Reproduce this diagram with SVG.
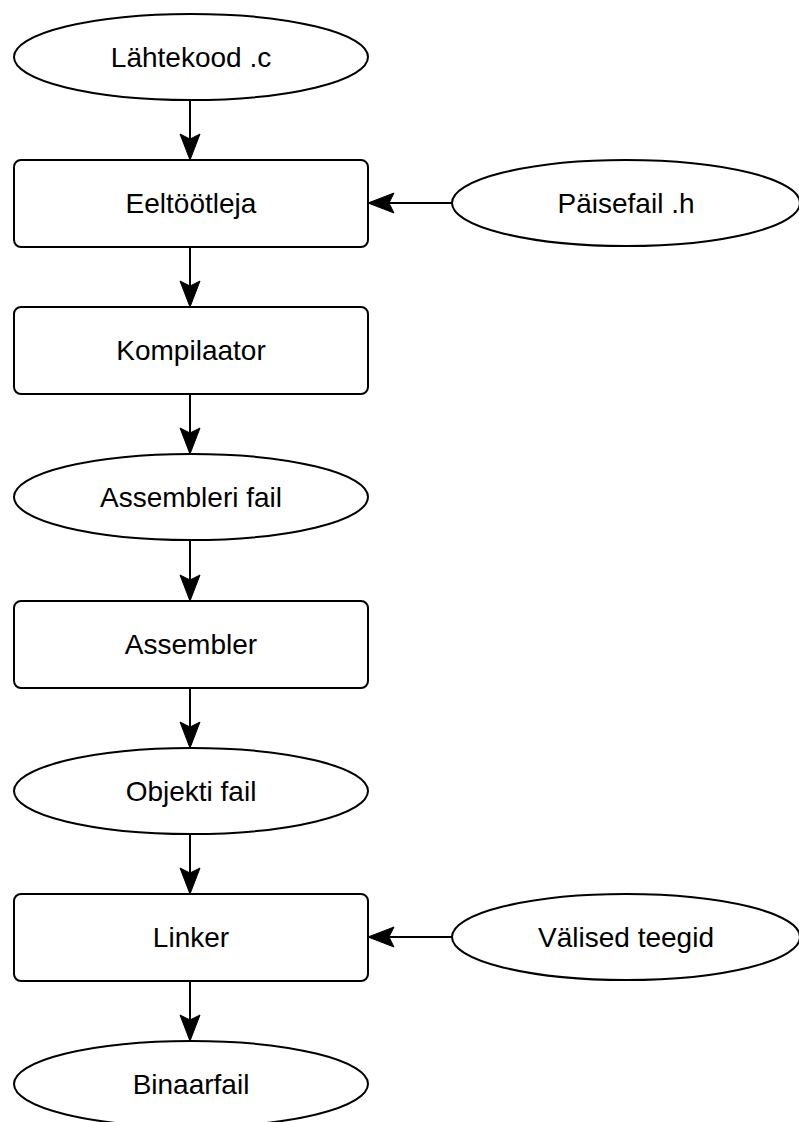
<svg xmlns="http://www.w3.org/2000/svg" width="799" height="1122" viewBox="0 0 799 1122">
<defs>
<style>
.n{fill:#fff;stroke:#000;stroke-width:2}
.t{font-family:"Liberation Sans",Arial,sans-serif;font-size:28px;fill:#000;text-anchor:middle}
.c{fill:none;stroke:#000;stroke-width:2}
</style>
<marker id="a" viewBox="0 0 28 24" refX="23" refY="12" markerWidth="28" markerHeight="24" markerUnits="userSpaceOnUse" orient="auto">
<path d="M1,2 L27,12 L1,22 L6,12 Z" fill="#000" stroke="#000" stroke-width="1" stroke-linejoin="miter"/>
</marker>
</defs>
<g id="connectors">
<line class="c" x1="190" y1="100" x2="190" y2="156" marker-end="url(#a)"/>
<line class="c" x1="190" y1="247" x2="190" y2="303" marker-end="url(#a)"/>
<line class="c" x1="190" y1="394" x2="190" y2="450" marker-end="url(#a)"/>
<line class="c" x1="190" y1="541" x2="190" y2="597" marker-end="url(#a)"/>
<line class="c" x1="190" y1="688" x2="190" y2="744" marker-end="url(#a)"/>
<line class="c" x1="190" y1="835" x2="190" y2="890" marker-end="url(#a)"/>
<line class="c" x1="190" y1="981" x2="190" y2="1037" marker-end="url(#a)"/>
<line class="c" x1="452" y1="203" x2="372" y2="203" marker-end="url(#a)"/>
<line class="c" x1="452" y1="937" x2="372" y2="937" marker-end="url(#a)"/>
</g>
<g id="lahtekood"><ellipse class="n" cx="191" cy="57" rx="177" ry="43"/><text class="t" x="191" y="67">Lähtekood .c</text></g>
<g id="eeltootleja"><rect class="n" x="14" y="160" width="354" height="87" rx="7"/><text class="t" x="191" y="213">Eeltöötleja</text></g>
<g id="paisefail"><ellipse class="n" cx="626" cy="203" rx="174" ry="43"/><text class="t" x="626" y="213">Päisefail .h</text></g>
<g id="kompilaator"><rect class="n" x="14" y="307" width="354" height="87" rx="7"/><text class="t" x="191" y="360">Kompilaator</text></g>
<g id="assembleri-fail"><ellipse class="n" cx="191" cy="497" rx="177" ry="43"/><text class="t" x="191" y="507">Assembleri fail</text></g>
<g id="assembler"><rect class="n" x="14" y="601" width="354" height="87" rx="7"/><text class="t" x="191" y="654">Assembler</text></g>
<g id="objekti-fail"><ellipse class="n" cx="191" cy="791" rx="177" ry="43"/><text class="t" x="191" y="801">Objekti fail</text></g>
<g id="linker"><rect class="n" x="14" y="894" width="354" height="87" rx="7"/><text class="t" x="191" y="947">Linker</text></g>
<g id="valised-teegid"><ellipse class="n" cx="626" cy="937" rx="174" ry="43"/><text class="t" x="626" y="947">Välised teegid</text></g>
<g id="binaarfail"><ellipse class="n" cx="191" cy="1084" rx="177" ry="43"/><text class="t" x="191" y="1094">Binaarfail</text></g>
</svg>
